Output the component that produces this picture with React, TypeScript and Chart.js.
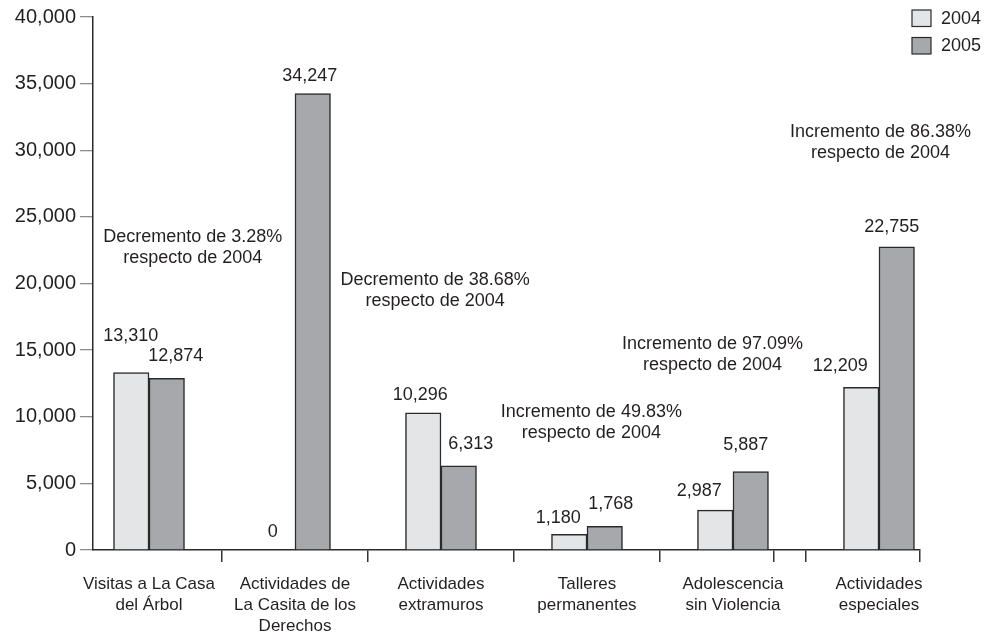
import React, { useEffect, useRef } from 'react';
import { Chart, registerables } from 'chart.js';

Chart.register(...registerables);

// ---------- data ----------
const categories: string[][] = [
  ['Visitas a La Casa', 'del Árbol'],
  ['Actividades de', 'La Casita de los', 'Derechos'],
  ['Actividades', 'extramuros'],
  ['Talleres', 'permanentes'],
  ['Adolescencia', 'sin Violencia'],
  ['Actividades', 'especiales'],
];
const seriesNames = ['2004', '2005'];
const values2004 = [13310, 0, 10296, 1180, 2987, 12209];
const values2005 = [12874, 34247, 6313, 1768, 5887, 22755];

const yMin = 0;
const yMax = 40000;
const yStep = 5000;

const annotationLines: string[][] = [
  ['Decremento de 3.28%', 'respecto de 2004'],
  ['Decremento de 38.68%', 'respecto de 2004'],
  ['Incremento de 49.83%', 'respecto de 2004'],
  ['Incremento de 97.09%', 'respecto de 2004'],
  ['Incremento de 86.38%', 'respecto de 2004'],
];
// annotation anchor in data units (category index, value)
const annotationX = [0.3, 1.96, 3.03, 3.86, 5.01];
const annotationY = [22700, 19475, 9531, 14672, 30544];

// tick marks below the x axis (category index units)
const boundaryTicks = [0.5, 1.5, 2.5, 3.5, 4.28, 4.5, 5.28];
const xMin = -0.3836;
const xMax = 5.281;

// ---------- styles ----------
const FONT = '"Liberation Sans", Arial, Helvetica, sans-serif';
const TEXT = '#231f20';
const FILL_2004 = '#e4e5e7';
const FILL_2005 = '#a7a8ab';
const EDGE = '#2a2a2a';
const BAR_WIDTH = 35.5;

// value-label nudges (px) relative to bar top centre
const nudgeX = [
  [-0.5, -4.5, -3, -11, -16, -21],
  [9, -3, 12, 6, -5, -5],
];
const nudgeY = [
  [-37, -18, -18, -16, -19, -21],
  [-22, -18, -22, -22, -27, -20],
];

const overlayPlugin = {
  id: 'overlay',
  afterDraw(chart: any) {
    const ctx = chart.ctx;
    const xs = chart.scales.x;
    const ys = chart.scales.y;
    ctx.save();
    ctx.fillStyle = TEXT;
    ctx.textAlign = 'center';
    ctx.textBaseline = 'middle';
    ctx.font = `18px ${FONT}`;
    // value labels
    chart.data.datasets.forEach((ds: any, di: number) => {
      const meta = chart.getDatasetMeta(di);
      meta.data.forEach((el: any, i: number) => {
        const v = ds.data[i].y as number;
        ctx.fillText(v.toLocaleString('en-US'), el.x + nudgeX[di][i], el.y + nudgeY[di][i]);
      });
    });
    // annotations
    const lh = 21;
    annotationLines.forEach((lines, i) => {
      const cx = xs.getPixelForValue(annotationX[i]);
      const cy = ys.getPixelForValue(annotationY[i]);
      const y0 = cy - ((lines.length - 1) * lh) / 2;
      lines.forEach((t, j) => ctx.fillText(t, cx, y0 + j * lh));
    });
    // legend (top right)
    const bx = chart.chartArea.right - 8;
    const by = 10;
    ctx.textAlign = 'left';
    chart.data.datasets.forEach((ds: any, di: number) => {
      const y = by + di * 27.5;
      ctx.fillStyle = ds.backgroundColor;
      ctx.fillRect(bx, y, 19, 16.5);
      ctx.strokeStyle = EDGE;
      ctx.lineWidth = 1.2;
      ctx.strokeRect(bx, y, 19, 16.5);
      ctx.fillStyle = TEXT;
      ctx.fillText(ds.label, bx + 29, y + 9);
    });
    ctx.restore();
  },
};

function App() {
  const ref = useRef<HTMLCanvasElement | null>(null);

  useEffect(() => {
    if (!ref.current) return;
    const chart = new Chart(ref.current, {
      type: 'bar',
      data: {
        datasets: [
          {
            label: seriesNames[0],
            data: values2004.map((v, i) => ({ x: i, y: v })),
            backgroundColor: FILL_2004,
            borderColor: EDGE,
            borderWidth: 1.5,
          },
          {
            label: seriesNames[1],
            data: values2005.map((v, i) => ({ x: i, y: v })),
            backgroundColor: FILL_2005,
            borderColor: EDGE,
            borderWidth: 1.5,
          },
        ],
      },
      options: {
        animation: false,
        responsive: true,
        maintainAspectRatio: false,
        barThickness: BAR_WIDTH,
        layout: { padding: { top: 17, right: 67, bottom: 0, left: 0 } },
        plugins: {
          legend: { display: false },
          tooltip: { enabled: false },
        },
        scales: {
          x: {
            type: 'linear',
            min: xMin,
            max: xMax,
            bounds: 'data',
            offset: false,
            z: 1,
            afterFit: (s: any) => {
              s.height = 84;
            },
            afterBuildTicks: (s: any) => {
              const vals = [0, 1, 2, 3, 4, 5, ...boundaryTicks].sort((a, b) => a - b);
              s.ticks = vals.map((v) => ({ value: v }));
            },
            grid: {
              offset: false,
              drawOnChartArea: false,
              drawTicks: true,
              tickLength: 12,
              lineWidth: 1.5,
              color: (c: any) => (c.tick && Number.isInteger(c.tick.value) ? 'rgba(0,0,0,0)' : '#333333'),
              tickColor: (c: any) => (c.tick && Number.isInteger(c.tick.value) ? 'rgba(0,0,0,0)' : '#333333'),
            },
            border: { display: true, color: '#2a2a2a', width: 1.5 },
            ticks: {
              autoSkip: false,
              maxRotation: 0,
              minRotation: 0,
              padding: 12,
              color: TEXT,
              font: { family: FONT, size: 17, lineHeight: 1.24 },
              callback: (value: any) =>
                Number.isInteger(value) && categories[value] ? categories[value] : '',
            },
          },
          y: {
            type: 'linear',
            min: yMin,
            max: yMax,
            afterFit: (s: any) => {
              s.width = 93;
            },
            grid: {
              drawOnChartArea: false,
              drawTicks: true,
              tickLength: 13,
              color: '#8d8d8d',
              lineWidth: 1.3,
            },
            border: { display: true, color: '#2a2a2a', width: 1.5 },
            ticks: {
              stepSize: yStep,
              padding: 4,
              color: TEXT,
              font: { family: FONT, size: 20 },
            },
          },
        },
      } as any,
      plugins: [overlayPlugin],
    });
    return () => chart.destroy();
  }, []);

  return (
    <div style={{ position: 'fixed', left: 0, top: 0, width: 987, height: 634, background: '#fff' }}>
      <canvas ref={ref} />
    </div>
  );
}

export default App;
